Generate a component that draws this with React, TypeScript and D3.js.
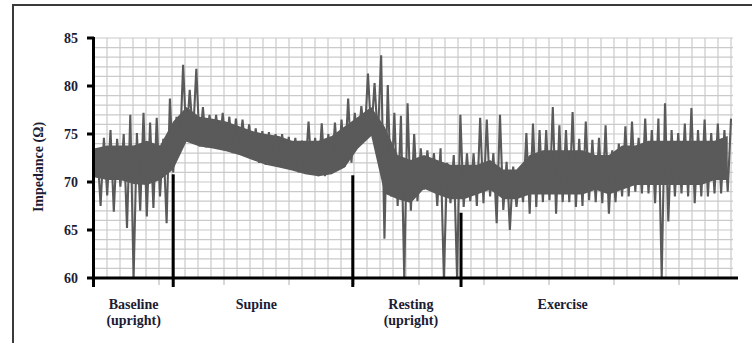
import { area, line, range, scaleLinear } from "d3";

const samples = range(0, 481, 5);
const troughs = [
  70.5, 67.5, 68.6, 66.9, 69.5, 65.2, 60.0, 67.0, 66.4, 67.3,
  68.5, 65.7, 71.0, 73.0, 74.3, 74.8, 73.7, 73.6, 73.8, 73.6,
  73.4, 73.0, 72.9, 72.9, 72.4, 72.0, 71.8, 71.8, 71.6, 71.6,
  71.3, 71.0, 71.0, 70.8, 70.6, 70.6, 70.9, 71.4, 71.6, 72.0,
  73.8, 74.5, 75.0, 74.5, 64.1, 68.5, 67.5, 60.0, 67.0, 68.0,
  69.2, 69.8, 67.5, 60.0, 67.8, 60.0, 67.4, 68.0, 67.5, 67.8,
  68.5, 65.7, 67.1, 65.0, 67.4, 67.9, 66.7, 67.4, 67.9, 68.1,
  66.7, 67.9, 67.9, 67.4, 67.5, 68.1, 67.9, 67.8, 66.7, 67.9,
  68.5, 68.5, 69.0, 68.8, 68.8, 67.8, 60.0, 65.9, 68.5, 68.8,
  68.5, 67.8, 68.5, 68.5, 68.8, 68.8, 69.0,
];
const peaks = [
  73.5, 74.6, 75.4, 74.5, 75.0, 77.0, 75.1, 77.2, 76.2, 76.7,
  74.5, 78.7, 76.8, 82.2, 79.6, 81.8, 77.8, 77.0, 77.0, 77.2,
  76.8, 76.6, 76.5, 76.0, 75.6, 75.3, 75.2, 75.0, 75.0, 74.7,
  74.6, 74.3, 76.3, 74.6, 76.1, 75.0, 76.2, 76.5, 78.7, 77.2,
  77.9, 81.3, 80.3, 83.2, 80.1, 77.2, 76.9, 78.2, 75.0, 73.5,
  73.3, 73.0, 73.5, 72.0, 72.8, 77.0, 73.0, 73.0, 76.7, 76.5,
  73.0, 77.0, 72.1, 71.6, 70.9, 75.1, 76.1, 75.4, 75.4, 77.8,
  75.9, 75.4, 77.3, 74.5, 76.3, 74.4, 74.6, 75.9, 73.3, 74.0,
  75.8, 76.3, 74.6, 76.6, 75.4, 76.6, 78.2, 75.4, 75.1, 76.1,
  77.7, 75.4, 76.5, 75.1, 76.1, 75.4, 76.6,
];

// dense core of the trace, every 10 samples
const coreSamples = range(0, 481, 10);
const coreLow = [
  70.5, 70.2, 70.2, 69.8, 69.7, 70.2, 71.3, 74.2, 73.7, 73.5,
  73.2, 72.8, 72.3, 71.8, 71.5, 71.2, 70.8, 70.6, 70.8, 71.5,
  73.5, 74.8, 68.8, 68.2, 67.8, 69.3, 68.7, 68.2, 68.2, 68.7,
  69.2, 68.2, 68.2, 68.7, 68.7, 68.7, 68.7, 68.7, 69.2, 68.7,
  69.2, 69.7, 69.7, 69.7, 69.7, 69.7, 69.7, 70.2, 70.2,
];
const coreHigh = [
  73.5, 73.8, 73.8, 73.8, 74.3, 73.8, 76.3, 77.8, 76.8, 76.6,
  76.3, 75.8, 75.3, 75.0, 74.8, 74.3, 74.3, 74.3, 74.8, 75.8,
  76.8, 77.8, 75.8, 72.8, 72.3, 72.8, 72.3, 71.8, 71.8, 71.8,
  72.3, 71.3, 71.3, 72.8, 73.3, 73.3, 73.3, 73.3, 72.8, 72.8,
  73.8, 73.8, 74.3, 74.3, 74.3, 74.3, 74.3, 74.3, 74.8,
];

const yTicks = [60, 65, 70, 75, 80, 85];
const yGrid = range(60, 86, 1);
const xGrid = range(0, 50, 1);

const phases = [
  { lines: ["Baseline", "(upright)"], start: 0, markerTop: null as number | null, labelAt: 30 },
  { lines: ["Supine"], start: 60, markerTop: 70.8, labelAt: 123 },
  { lines: ["Resting", "(upright)"], start: 196, markerTop: 70.7, labelAt: 240 },
  { lines: ["Exercise"], start: 278, markerTop: 66.8, labelAt: 355 },
];

export default function App() {
  const width = 752;
  const height = 343;
  const margin = { top: 38, right: 19, bottom: 65, left: 94 };
  const plotBottom = height - margin.bottom;

  const x = scaleLinear().domain([0, 484]).range([margin.left, 733]);
  const gx = scaleLinear().domain([0, 49]).range([margin.left, 731]);
  const y = scaleLinear().domain([60, 85]).range([plotBottom, margin.top]);

  const trace: [number, number][] = [];
  samples.forEach((s, i) => {
    trace.push([s, troughs[i]]);
    trace.push([s + 2.5, peaks[i]]);
  });
  const tracePath = line<[number, number]>()
    .x((d) => x(d[0]))
    .y((d) => y(d[1]));

  const corePath = area<number>()
    .x((s) => x(s))
    .y0((_, i) => y(coreLow[i]))
    .y1((_, i) => y(coreHigh[i]));

  const ink = "#1c1c34";
  const font = "'Liberation Serif', 'Times New Roman', serif";

  return (
    <div style={{ position: "absolute", left: 0, top: 0 }}>
      <svg width={width} height={height} style={{ display: "block", background: "#fff" }}>
        <rect x={13} y={5} width={760} height={400} fill="none" stroke="#3a3a3a" strokeWidth={2} />

        {yGrid.map((v) => (
          <line key={`h-${v}`} x1={margin.left} x2={733} y1={y(v)} y2={y(v)} stroke="#cacaca" strokeWidth={1.2} />
        ))}
        {xGrid.map((g) => (
          <line key={`v-${g}`} x1={gx(g)} x2={gx(g)} y1={margin.top} y2={plotBottom} stroke="#cacaca" strokeWidth={1.2} />
        ))}
        {xGrid
          .filter((g) => g % 5 === 0 && g > 0)
          .map((g) => (
            <line key={`t-${g}`} x1={gx(g)} x2={gx(g)} y1={plotBottom} y2={plotBottom + 7} stroke="#b0b0b0" strokeWidth={1} />
          ))}

        <path d={corePath(coreSamples) ?? ""} fill="#5a5a5a" />
        <path d={tracePath(trace) ?? ""} fill="none" stroke="#5a5a5a" strokeWidth={2.1} strokeLinejoin="miter" />

        {/* axes */}
        <line x1={margin.left - 0.5} x2={margin.left - 0.5} y1={margin.top - 1} y2={plotBottom + 9} stroke="#000" strokeWidth={3} />
        <line x1={margin.left - 2} x2={738} y1={plotBottom} y2={plotBottom} stroke="#000" strokeWidth={3} />
        {yTicks.map((v) => (
          <g key={`y-${v}`}>
            <line x1={margin.left - 7} x2={margin.left} y1={y(v)} y2={y(v)} stroke="#000" strokeWidth={3} />
            <text
              x={78}
              y={y(v)}
              dy="0.35em"
              textAnchor="end"
              fontFamily={font}
              fontWeight="bold"
              fontSize={14}
              fill={ink}
            >
              {v}
            </text>
          </g>
        ))}
        <text
          transform={`translate(38, 167) rotate(-90)`}
          textAnchor="middle"
          dy="0.35em"
          fontFamily={font}
          fontWeight="bold"
          fontSize={14}
          fill={ink}
        >
          Impedance (Ω)
        </text>

        {/* phase markers and labels */}
        {phases.map((p) => (
          <g key={p.lines[0]}>
            {p.markerTop !== null ? (
              <line x1={x(p.start)} x2={x(p.start)} y1={y(p.markerTop)} y2={plotBottom + 9} stroke="#000" strokeWidth={3} />
            ) : null}
            {p.lines.map((t, i) => (
              <text
                key={t}
                x={x(p.labelAt)}
                y={309 + i * 16}
                textAnchor="middle"
                fontFamily={font}
                fontWeight="bold"
                fontSize={14}
                fill={ink}
              >
                {t}
              </text>
            ))}
          </g>
        ))}
      </svg>
    </div>
  );
}
